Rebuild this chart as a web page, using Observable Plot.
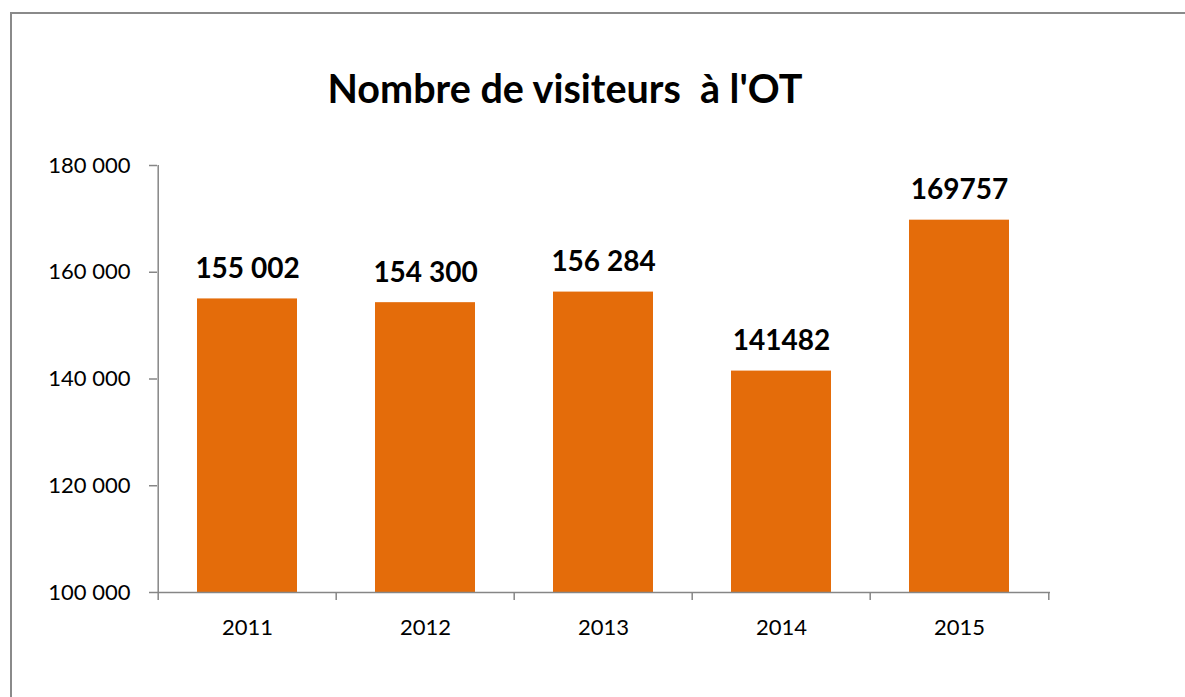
<!DOCTYPE html>
<html>
<head>
<meta charset="utf-8">
<script src="https://cdn.jsdelivr.net/npm/d3@7"></script>
<script src="https://cdn.jsdelivr.net/npm/@observablehq/plot@0.6"></script>
<style>
  html, body { margin: 0; padding: 0; background: #fff; overflow: hidden; }
  #wrap { position: relative; width: 1185px; height: 697px; overflow: hidden; }
  #bTop { position: absolute; left: 10px; top: 12px; width: 1200px; height: 2px; background: #8a8a8a; }
  #bLeft { position: absolute; left: 10px; top: 12px; width: 2px; height: 700px; background: #8a8a8a; }
  #title { position: absolute; left: 0; width: 1130px; top: 64px; text-align: center;
           font-family: Lato, "Open Sans", sans-serif; font-weight: bold; font-size: 39.5px;
           color: #000; white-space: pre; }
</style>
</head>
<body>
<div id="wrap">
  <div id="bTop"></div>
  <div id="bLeft"></div>
  <div id="title">Nombre de visiteurs  à l'OT</div>
</div>
<script>
const years = ["2011", "2012", "2013", "2014", "2015"];
const visitors = [155002, 154300, 156284, 141482, 169757];
const valueLabels = ["155 002", "154 300", "156 284", "141482", "169757"];
const yTicks = [100000, 120000, 140000, 160000, 180000];
const yTickLabels = ["100 000", "120 000", "140 000", "160 000", "180 000"];

const data = years.map((y, i) => ({year: y, value: visitors[i], label: valueLabels[i]}));

const W = 1185, H = 697;
const mL = 157, mR = 135, mT = 165, mB = 105;
const step = (W - mL - mR) / years.length;
const pad = 0.436;
const axisColor = "#868686";

const chart = Plot.plot({
  width: W,
  height: H,
  marginLeft: mL,
  marginRight: mR,
  marginTop: mT,
  marginBottom: mB,
  style: {fontFamily: "Lato, 'Open Sans', sans-serif", fontSize: "22px", color: "#000", background: "transparent", overflow: "visible"},
  x: {type: "band", domain: years, paddingInner: pad, paddingOuter: pad / 2, align: 0.5, label: null},
  y: {domain: [yTicks[0], yTicks[yTicks.length - 1]], label: null},
  marks: [
    Plot.barY(data, {x: "year", y1: () => yTicks[0], y2: "value", fill: "#E46C0A"}),
    // axis lines
    Plot.ruleY([yTicks[0]], {stroke: axisColor, strokeWidth: 1.5}),
    Plot.ruleX([years[0]], {dx: -step / 2, stroke: axisColor, strokeWidth: 1.5}),
    // y axis
    Plot.axisY({ticks: yTicks, tickFormat: (d) => yTickLabels[yTicks.indexOf(d)], tickSize: 8, tickPadding: 19, stroke: axisColor, strokeWidth: 1.5, fill: "#000"}),
    // x boundary ticks
    Plot.axisX({tickSize: 8, tickFormat: () => "", dx: -step / 2, stroke: axisColor, strokeWidth: 1.5}),
    Plot.axisX({ticks: [years[years.length - 1]], tickSize: 8, tickFormat: () => "", dx: step / 2, stroke: axisColor, strokeWidth: 1.5}),
    // x labels
    Plot.axisX({tickSize: 0, tickPadding: 27, fill: "#000"}),
    // value labels
    Plot.text(data, {x: "year", y: "value", text: "label", lineAnchor: "bottom", dy: -21, fontWeight: "bold", fontSize: 28, fill: "#000"})
  ]
});

const wrap = document.getElementById("wrap");
wrap.insertBefore(chart, wrap.firstChild);
chart.style.position = "absolute";
chart.style.left = "0";
chart.style.top = "0";
</script>
</body>
</html>
